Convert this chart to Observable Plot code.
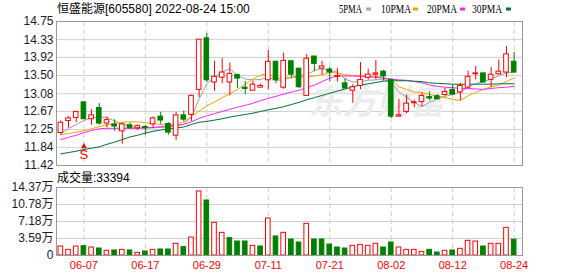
<!DOCTYPE html>
<html><head><meta charset="utf-8">
<script src="https://cdn.jsdelivr.net/npm/d3@7"></script>
<script src="https://cdn.jsdelivr.net/npm/@observablehq/plot@0.6"></script>
<style>
body{margin:0;background:#fff;}
#wrap{position:relative;width:578px;height:276px;overflow:hidden;background:#fff;}
#main{position:absolute;left:0;top:0;}
#vol{position:absolute;left:0;top:172px;}
#top{position:absolute;left:0;top:0;}
#vlab{position:absolute;left:0;top:165px;}
</style></head>
<body><div id="wrap"><div id="main"></div><div id="vol"></div>
<svg id="top" width="578" height="20" font-family="Liberation Sans, Arial, Noto Sans CJK SC, sans-serif" font-size="12">
<text x="57" y="12.7" fill="#000">恒盛能源[605580] 2022-08-24 15:00</text>
<g font-family="Liberation Serif, serif" font-size="12" fill="#000">
<text x="339" y="12.7" textLength="23" lengthAdjust="spacingAndGlyphs">5PMA</text>
<rect x="366" y="7.5" width="5" height="3" fill="#aaaaaa"/>
<text x="381" y="12.7" textLength="30" lengthAdjust="spacingAndGlyphs">10PMA</text>
<rect x="413" y="7.5" width="5" height="3" fill="#f5a300"/>
<text x="427" y="12.7" textLength="30" lengthAdjust="spacingAndGlyphs">20PMA</text>
<rect x="460" y="7.5" width="5" height="3" fill="#ff22ff"/>
<text x="472" y="12.7" textLength="30" lengthAdjust="spacingAndGlyphs">30PMA</text>
<rect x="506" y="7.5" width="5" height="3" fill="#00703a"/>
</g></svg>
<svg id="vlab" width="200" height="20" font-family="Liberation Sans, Arial, Noto Sans CJK SC, sans-serif" font-size="12">
<text x="57" y="16.5" fill="#000">成交量:33394</text>
</svg>
</div>
<script>
const dates = ["06-01","06-02","06-06","06-07","06-08","06-09","06-10","06-13","06-14","06-15","06-16","06-17","06-20","06-21","06-22","06-23","06-24","06-27","06-28","06-29","06-30","07-01","07-04","07-05","07-06","07-07","07-08","07-11","07-12","07-13","07-14","07-15","07-18","07-19","07-20","07-21","07-22","07-25","07-26","07-27","07-28","07-29","08-01","08-02","08-03","08-04","08-05","08-08","08-09","08-10","08-11","08-12","08-15","08-16","08-17","08-18","08-19","08-22","08-23","08-24"];
const open = [12.17,12.45,12.52,12.88,12.49,12.75,12.39,12.37,12.21,12.35,12.28,12.31,12.37,12.55,12.38,12.11,12.58,12.59,13.17,14.36,13.34,13.45,13.34,13.51,13.22,13.15,13.22,13.39,13.82,13.22,13.83,13.66,13.03,13.94,13.66,13.64,13.47,13.32,13.15,13.26,13.45,13.52,13.59,13.40,12.55,12.66,12.86,12.89,13.00,13.02,13.05,13.17,13.11,13.22,13.53,13.55,13.40,13.53,13.57,13.82];
const close = [12.41,12.51,12.66,12.49,12.58,12.39,12.47,12.32,12.37,12.28,12.33,12.28,12.51,12.46,12.18,12.58,12.48,13.03,14.33,13.39,13.47,13.57,13.54,13.43,13.19,13.29,13.26,13.82,13.39,13.84,13.52,13.23,13.89,13.77,13.71,13.57,13.49,13.20,13.23,13.40,13.52,13.55,13.48,12.55,12.58,12.85,12.88,13.03,12.97,12.95,13.12,13.06,13.26,13.47,13.55,13.34,13.52,13.59,13.99,13.57];
const high = [12.45,12.55,12.67,12.88,12.71,12.85,12.54,12.48,12.40,12.40,12.36,12.35,12.54,12.65,12.41,12.65,12.68,13.05,14.34,14.47,13.83,13.89,13.79,13.53,13.36,13.37,13.30,14.08,13.82,14.02,13.83,13.66,13.99,13.94,13.83,13.69,13.66,13.43,13.29,13.80,13.65,13.85,13.62,13.40,12.95,13.05,12.93,13.09,13.12,13.06,13.20,13.29,13.32,13.60,13.71,13.55,13.69,13.86,14.17,14.03];
const low = [12.12,12.28,12.41,12.49,12.35,12.35,12.29,12.21,11.91,12.27,12.23,12.12,12.28,12.37,12.12,12.00,12.43,12.44,12.99,13.34,13.14,13.31,13.03,13.20,13.06,13.15,13.22,13.17,13.31,13.18,13.43,13.20,13.03,13.59,13.51,13.36,13.35,13.20,12.86,13.17,13.39,13.40,13.37,12.51,12.55,12.61,12.75,12.78,12.91,12.95,13.02,13.04,12.92,13.20,13.40,13.34,13.22,13.51,13.45,13.57];
const volume = [1.90,1.20,1.90,1.97,1.69,1.48,0.99,1.06,1.20,1.06,0.56,0.85,1.20,1.27,1.27,2.47,1.76,3.80,13.53,11.62,6.90,4.79,3.66,2.96,2.96,2.04,1.90,7.82,4.02,4.79,3.38,2.75,6.69,3.38,3.38,2.32,1.69,1.48,2.04,2.25,2.04,2.47,1.69,2.75,1.69,1.20,1.20,0.77,1.20,0.63,0.99,1.06,1.41,3.10,2.96,1.90,2.47,2.47,5.85,3.34];
const ma5 = [12.16,12.27,12.37,12.46,12.52,12.54,12.53,12.45,12.38,12.33,12.29,12.29,12.29,12.30,12.31,12.33,12.38,12.54,12.96,13.31,13.46,13.58,13.66,13.50,13.42,13.40,13.41,13.46,13.39,13.40,13.46,13.50,13.52,13.62,13.66,13.62,13.58,13.42,13.35,13.36,13.39,13.40,13.42,13.35,13.12,13.00,12.88,12.78,12.88,12.96,13.02,13.06,13.12,13.23,13.32,13.35,13.42,13.50,13.56,13.58];
const ma10 = [12.13,12.16,12.19,12.22,12.27,12.32,12.36,12.39,12.42,12.43,12.43,12.41,12.39,12.37,12.37,12.38,12.43,12.55,12.68,12.80,12.89,12.99,13.08,13.18,13.30,13.42,13.51,13.55,13.43,13.45,13.45,13.46,13.47,13.49,13.52,13.57,13.56,13.52,13.50,13.50,13.49,13.48,13.45,13.39,13.24,13.18,13.12,13.11,13.06,13.03,12.99,12.95,12.92,13.03,13.11,13.18,13.24,13.28,13.36,13.45];
const ma20 = [12.02,12.07,12.12,12.18,12.23,12.27,12.28,12.28,12.28,12.28,12.28,12.29,12.30,12.32,12.34,12.35,12.37,12.43,12.51,12.57,12.62,12.67,12.72,12.77,12.81,12.86,12.92,12.97,13.02,13.07,13.12,13.16,13.22,13.28,13.36,13.44,13.49,13.49,13.49,13.48,13.47,13.46,13.44,13.42,13.40,13.39,13.36,13.33,13.28,13.25,13.23,13.22,13.20,13.20,13.19,13.18,13.20,13.22,13.23,13.25];
const ma30 = [11.69,11.72,11.75,11.79,11.82,11.85,11.91,11.96,12.02,12.08,12.12,12.17,12.21,12.24,12.27,12.29,12.31,12.37,12.42,12.44,12.47,12.50,12.54,12.57,12.60,12.63,12.67,12.71,12.74,12.78,12.83,12.88,12.94,12.99,13.04,13.09,13.14,13.19,13.24,13.28,13.31,13.34,13.37,13.38,13.38,13.38,13.37,13.36,13.33,13.32,13.31,13.30,13.30,13.30,13.30,13.30,13.30,13.31,13.31,13.31];
const priceTicks = [11.42,11.84,12.25,12.67,13.08,13.50,13.92,14.33,14.75];
const volTicks = [0,3.59,7.18,10.78,14.37];
const dateTicks = ["06-07","06-17","06-29","07-11","07-21","08-02","08-12","08-24"];
const signals = [{date:"06-07", label:"S"}];

const RED = "#ff0000", GREEN = "#008000";
const rows = dates.map((d,i) => ({
  date: d, open: open[i], close: close[i], high: high[i], low: low[i], vol: volume[i],
  up: close[i] >= open[i],
  volUp: i === 0 ? close[i] >= open[i] : close[i] >= close[i-1]
}));
const maSeries = [
  {name:"MA5", vals: ma5, color:"#a0a0a0"},
  {name:"MA10", vals: ma10, color:"#f5a300"},
  {name:"MA20", vals: ma20, color:"#ff22ff"},
  {name:"MA30", vals: ma30, color:"#00703a"}
];
const maRows = maSeries.flatMap(s => s.vals.map((v,i) => ({date: dates[i], v, name: s.name, color: s.color})));

const xOpt = {type:"band", domain: dates, paddingInner: 0.4, paddingOuter: 0.2, insetLeft: 0.5, insetRight: 4.5, axis: null};
const font = {fontFamily: "Liberation Sans, Arial, Noto Sans CJK SC, sans-serif", fontSize: "12px", background: "transparent", overflow: "visible"};

const main = Plot.plot({
  width: 578, height: 172,
  marginTop: 21, marginBottom: 7, marginLeft: 56, marginRight: 56,
  style: font,
  x: xOpt,
  y: {domain: [11.42, 14.75], axis: null},
  marks: [
    Plot.ruleY(priceTicks.slice(1, -1), {stroke: "#cfcfcf"}),
    Plot.ruleX(dateTicks, {x: d => d, stroke: "#cfcfcf", strokeDasharray: "5,3"}),
    Plot.text(["东方财富"], {frameAnchor: "top-left", dx: 308 - 56, dy: 89 - 21, text: d => d, fontSize: 34, fontWeight: "bold", fontStyle: "italic", fill: "#ececec", fontFamily: "Noto Sans CJK SC"}),
    Plot.axisY(priceTicks, {tickSize: 0, tickPadding: 3, tickFormat: d => d.toFixed(2), fill: "#1a1a2a", fontSize: 12, label: null}),
    ...maSeries.map(s => Plot.line(maRows.filter(r => r.name === s.name), {x: "date", y: "v", stroke: s.color, strokeWidth: 1})),
    Plot.ruleX(rows, {x: "date", y1: "low", y2: "high", stroke: d => d.up ? RED : GREEN, strokeWidth: 1}),
    Plot.barY(rows, {x: "date", y1: d => Math.min(d.open, d.close), y2: d => Math.max(d.open, d.close), fill: d => d.up ? "#fff" : GREEN, stroke: d => d.up ? RED : GREEN, strokeWidth: 1}),
    Plot.dot(signals, {x: "date", frameAnchor: "bottom", dy: -19, symbol: "triangle", r: 2.2, fill: RED, stroke: null}),
    Plot.text(signals, {x: "date", text: "label", frameAnchor: "bottom", dy: -7, fill: RED, fontSize: 13}),
    Plot.frame({stroke: "#999"})
  ]
});
document.getElementById("main").append(main);

const vol = Plot.plot({
  width: 578, height: 104,
  marginTop: 15, marginBottom: 21, marginLeft: 56, marginRight: 56,
  style: font,
  x: xOpt,
  y: {domain: [0, 14.37], axis: null},
  marks: [
    Plot.ruleY(volTicks.slice(1, -1), {stroke: "#cfcfcf"}),
    Plot.ruleX(dateTicks, {x: d => d, stroke: "#cfcfcf", strokeDasharray: "5,3"}),
    Plot.axisY(volTicks, {tickSize: 0, tickPadding: 3, tickFormat: d => d === 0 ? "0" : d.toFixed(2) + "万", fill: "#1a1a2a", fontSize: 12, label: null}),
    Plot.axisX(dateTicks, {tickSize: 0, tickPadding: 6, fill: RED, fontSize: 11, label: null}),
    Plot.barY(rows, {x: "date", y: "vol", fill: d => d.volUp ? "#fff" : GREEN, stroke: d => d.volUp ? RED : GREEN, strokeWidth: 1}),
    Plot.frame({stroke: "#999"})
  ]
});
document.getElementById("vol").append(vol);
</script>
</body></html>
